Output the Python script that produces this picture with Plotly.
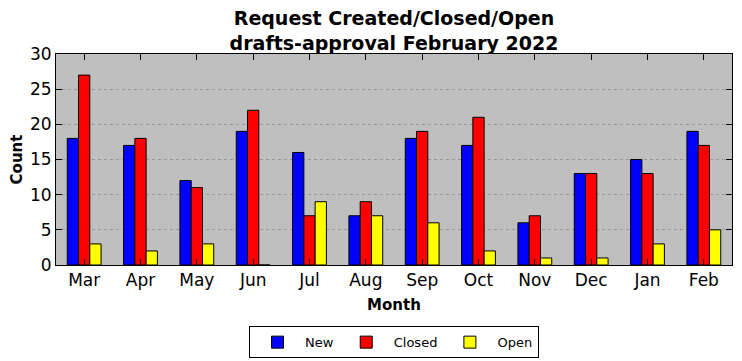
import plotly.graph_objects as go

months = ["Mar", "Apr", "May", "Jun", "Jul", "Aug", "Sep", "Oct", "Nov", "Dec", "Jan", "Feb"]
new_vals = [18, 17, 12, 19, 16, 7, 18, 17, 6, 13, 15, 19]
closed_vals = [27, 18, 11, 22, 7, 9, 19, 21, 7, 13, 13, 17]
open_vals = [3, 2, 3, 0, 9, 7, 6, 2, 1, 1, 3, 5]
y_ticks = [0, 5, 10, 15, 20, 25, 30]

fig = go.Figure()
for name, vals, color in [("New", new_vals, "#0000ff"), ("Closed", closed_vals, "#ff0000"), ("Open", open_vals, "#ffff00")]:
    fig.add_trace(go.Bar(x=months, y=vals, name=name,
                         marker=dict(color=color, line=dict(color="black", width=1))))

font = "DejaVu Sans, sans-serif"
fig.update_layout(
    width=734, height=353,
    margin=dict(l=48, r=10, t=46, b=96, autoexpand=False),
    paper_bgcolor="white", plot_bgcolor="#bfbfbf",
    barmode="group", bargap=0.4, bargroupgap=0,
    font=dict(family=font, color="black", size=17),
    title=dict(text="<b>Request Created/Closed/Open<br>drafts-approval February 2022</b>",
               x=0.5, xanchor="center", xref="paper", yref="container", y=0.952, yanchor="middle",
               font=dict(size=19, family=font)),
    legend=dict(orientation="h", x=0.5, xanchor="center", y=-0.29, yanchor="top",
                bordercolor="black", borderwidth=1, font=dict(size=13),
                itemwidth=45, traceorder="normal", tracegroupgap=0),
    xaxis=dict(title=dict(text="<b>Month</b>", font=dict(size=15), standoff=10),
               automargin=False,
               range=[-0.5, 11.5], showline=True, linecolor="black", linewidth=1, mirror="ticks",
               ticks="inside", ticklen=6, tickcolor="black", showgrid=False, tickfont=dict(size=17)),
    yaxis=dict(title=dict(text="<b>Count</b>", font=dict(size=15), standoff=6),
               automargin=False,
               range=[0, 30], tickvals=y_ticks, showline=True, linecolor="black", linewidth=1,
               mirror="ticks", ticks="inside", ticklen=6, tickcolor="black",
               showgrid=True, gridcolor="#999999", griddash="dot", gridwidth=1,
               zeroline=False, tickfont=dict(size=17)),
)
fig.write_html("out.html")
